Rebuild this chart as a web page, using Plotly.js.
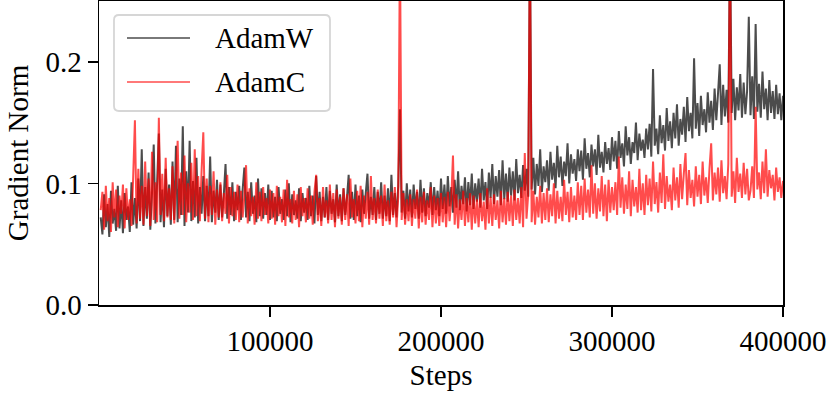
<!DOCTYPE html>
<html>
<head>
<meta charset="utf-8">
<script src="https://cdn.plot.ly/plotly-3.0.1.min.js"></script>
<style>
  html, body { margin: 0; padding: 0; background: #fff; }
  #chart { width: 830px; height: 395px; }
</style>
</head>
<body>
<div id="chart"></div>
<script>
// gradient norm, one value per 1000 steps
const adamW = [
  0.072, 0.058, 0.091, 0.064, 0.083, 0.056, 0.094, 0.067, 0.079, 0.061, 0.098, 0.063, 0.086, 0.059, 0.092, 0.070, 0.081, 0.060, 0.101, 0.066,
  0.088, 0.063, 0.104, 0.069, 0.128, 0.065, 0.097, 0.071, 0.109, 0.062, 0.092, 0.132, 0.067, 0.101, 0.141, 0.068, 0.095, 0.064, 0.112, 0.073,
  0.099, 0.066, 0.118, 0.070, 0.131, 0.068, 0.104, 0.074, 0.147, 0.065, 0.110, 0.076, 0.135, 0.069, 0.102, 0.072, 0.121, 0.067, 0.097, 0.075,
  0.106, 0.069, 0.098, 0.073, 0.122, 0.068, 0.094, 0.076, 0.103, 0.070, 0.099, 0.072, 0.091, 0.116, 0.071, 0.097, 0.074, 0.101, 0.069, 0.093,
  0.078, 0.098, 0.070, 0.095, 0.113, 0.072, 0.093, 0.069, 0.101, 0.075, 0.090, 0.068, 0.104, 0.073, 0.096, 0.071, 0.092, 0.074, 0.099, 0.070,
  0.094, 0.072, 0.089, 0.069, 0.097, 0.075, 0.087, 0.070, 0.095, 0.073, 0.100, 0.068, 0.091, 0.074, 0.086, 0.071, 0.096, 0.069, 0.092, 0.076,
  0.088, 0.070, 0.098, 0.073, 0.090, 0.067, 0.106, 0.074, 0.093, 0.069, 0.089, 0.072, 0.097, 0.070, 0.094, 0.075, 0.087, 0.068, 0.099, 0.073,
  0.091, 0.069, 0.096, 0.074, 0.088, 0.107, 0.071, 0.093, 0.070, 0.099, 0.073, 0.090, 0.068, 0.095, 0.075, 0.092, 0.108, 0.071, 0.089, 0.074,
  0.097, 0.070, 0.093, 0.075, 0.101, 0.071, 0.090, 0.073, 0.096, 0.069, 0.107, 0.074, 0.092, 0.072, 0.098, 0.161, 0.076, 0.094, 0.071, 0.100,
  0.077, 0.095, 0.072, 0.099, 0.079, 0.093, 0.071, 0.103, 0.076, 0.096, 0.073, 0.092, 0.080, 0.101, 0.074, 0.097, 0.078, 0.094, 0.073, 0.104,
  0.079, 0.099, 0.075, 0.106, 0.081, 0.097, 0.076, 0.103, 0.080, 0.110, 0.078, 0.098, 0.083, 0.105, 0.077, 0.101, 0.082, 0.108, 0.079, 0.100,
  0.085, 0.104, 0.080, 0.112, 0.086, 0.101, 0.079, 0.109, 0.088, 0.116, 0.083, 0.106, 0.089, 0.111, 0.082, 0.119, 0.087, 0.108, 0.085, 0.113,
  0.090, 0.110, 0.086, 0.120, 0.092, 0.107, 0.088, 0.115, 0.094, 0.112, 0.089, 0.300, 0.095, 0.121, 0.091, 0.116, 0.098, 0.128, 0.093, 0.114,
  0.101, 0.119, 0.094, 0.126, 0.103, 0.117, 0.096, 0.131, 0.105, 0.122, 0.098, 0.118, 0.106, 0.133, 0.100, 0.124, 0.108, 0.120, 0.102, 0.128,
  0.110, 0.127, 0.103, 0.137, 0.112, 0.125, 0.105, 0.132, 0.114, 0.128, 0.107, 0.140, 0.113, 0.126, 0.109, 0.134, 0.116, 0.129, 0.111, 0.138,
  0.118, 0.135, 0.112, 0.143, 0.121, 0.133, 0.114, 0.147, 0.123, 0.138, 0.116, 0.134, 0.125, 0.150, 0.119, 0.141, 0.127, 0.136, 0.121, 0.145,
  0.128, 0.149, 0.122, 0.194, 0.131, 0.145, 0.124, 0.156, 0.133, 0.148, 0.127, 0.162, 0.135, 0.151, 0.129, 0.158, 0.137, 0.165, 0.131, 0.153,
  0.140, 0.163, 0.134, 0.171, 0.143, 0.158, 0.137, 0.203, 0.145, 0.166, 0.139, 0.172, 0.148, 0.161, 0.142, 0.175, 0.150, 0.168, 0.144, 0.178,
  0.152, 0.174, 0.198, 0.148, 0.181, 0.155, 0.177, 0.150, 0.300, 0.158, 0.186, 0.152, 0.179, 0.160, 0.190, 0.154, 0.183, 0.157, 0.176, 0.237,
  0.156, 0.188, 0.153, 0.231, 0.159, 0.182, 0.154, 0.192, 0.161, 0.178, 0.152, 0.185, 0.158, 0.176, 0.153, 0.181, 0.157, 0.174, 0.152, 0.172
];

const adamC = [
  0.078, 0.093, 0.062, 0.098, 0.069, 0.088, 0.060, 0.101, 0.072, 0.095, 0.064, 0.090, 0.075, 0.099, 0.063, 0.096, 0.070, 0.087, 0.065, 0.106,
  0.152, 0.067, 0.112, 0.071, 0.098, 0.066, 0.118, 0.073, 0.104, 0.065, 0.126, 0.070, 0.101, 0.068, 0.154, 0.074, 0.108, 0.069, 0.121, 0.072,
  0.096, 0.070, 0.114, 0.067, 0.103, 0.135, 0.071, 0.109, 0.074, 0.123, 0.068, 0.100, 0.076, 0.117, 0.070, 0.128, 0.073, 0.106, 0.069, 0.111,
  0.142, 0.071, 0.104, 0.068, 0.098, 0.074, 0.110, 0.066, 0.095, 0.072, 0.101, 0.069, 0.092, 0.075, 0.107, 0.067, 0.097, 0.073, 0.093, 0.070,
  0.099, 0.068, 0.094, 0.072, 0.090, 0.115, 0.067, 0.096, 0.073, 0.089, 0.066, 0.101, 0.071, 0.093, 0.069, 0.097, 0.074, 0.088, 0.067, 0.095,
  0.071, 0.092, 0.066, 0.098, 0.073, 0.089, 0.068, 0.095, 0.065, 0.103, 0.072, 0.087, 0.067, 0.094, 0.070, 0.091, 0.064, 0.097, 0.073, 0.088,
  0.068, 0.096, 0.071, 0.090, 0.066, 0.093, 0.107, 0.069, 0.088, 0.065, 0.097, 0.072, 0.086, 0.067, 0.099, 0.070, 0.092, 0.064, 0.095, 0.071,
  0.089, 0.066, 0.096, 0.070, 0.091, 0.065, 0.104, 0.072, 0.087, 0.067, 0.094, 0.069, 0.098, 0.064, 0.090, 0.071, 0.093, 0.066, 0.106, 0.070,
  0.088, 0.067, 0.095, 0.071, 0.090, 0.065, 0.099, 0.069, 0.086, 0.066, 0.093, 0.072, 0.097, 0.064, 0.089, 0.300, 0.070, 0.092, 0.066, 0.087,
  0.069, 0.091, 0.065, 0.087, 0.071, 0.095, 0.063, 0.089, 0.068, 0.093, 0.066, 0.086, 0.070, 0.097, 0.064, 0.090, 0.067, 0.088, 0.065, 0.092,
  0.068, 0.089, 0.064, 0.093, 0.069, 0.086, 0.123, 0.066, 0.091, 0.063, 0.087, 0.070, 0.094, 0.065, 0.088, 0.068, 0.092, 0.062, 0.090, 0.067,
  0.087, 0.064, 0.092, 0.069, 0.085, 0.062, 0.096, 0.067, 0.089, 0.065, 0.091, 0.070, 0.086, 0.063, 0.094, 0.068, 0.088, 0.066, 0.093, 0.069,
  0.090, 0.065, 0.095, 0.070, 0.088, 0.067, 0.097, 0.064, 0.125, 0.071, 0.091, 0.300, 0.068, 0.094, 0.066, 0.089, 0.072, 0.098, 0.067, 0.092,
  0.070, 0.096, 0.068, 0.091, 0.073, 0.100, 0.067, 0.094, 0.071, 0.089, 0.069, 0.103, 0.074, 0.093, 0.068, 0.097, 0.072, 0.090, 0.070, 0.101,
  0.074, 0.098, 0.070, 0.104, 0.076, 0.095, 0.072, 0.115, 0.075, 0.100, 0.071, 0.096, 0.077, 0.106, 0.073, 0.099, 0.069, 0.103, 0.076, 0.097,
  0.078, 0.101, 0.074, 0.122, 0.080, 0.105, 0.075, 0.099, 0.079, 0.110, 0.073, 0.103, 0.081, 0.097, 0.076, 0.112, 0.078, 0.100, 0.074, 0.107,
  0.082, 0.104, 0.077, 0.118, 0.083, 0.101, 0.076, 0.109, 0.084, 0.124, 0.079, 0.106, 0.085, 0.099, 0.078, 0.113, 0.086, 0.105, 0.080, 0.116,
  0.087, 0.108, 0.125, 0.082, 0.111, 0.088, 0.103, 0.081, 0.114, 0.089, 0.107, 0.083, 0.118, 0.090, 0.105, 0.084, 0.112, 0.133, 0.086, 0.109,
  0.091, 0.113, 0.085, 0.119, 0.092, 0.106, 0.087, 0.116, 0.300, 0.089, 0.110, 0.084, 0.121, 0.093, 0.108, 0.088, 0.117, 0.091, 0.112, 0.086,
  0.094, 0.114, 0.088, 0.163, 0.095, 0.109, 0.087, 0.118, 0.092, 0.128, 0.089, 0.111, 0.096, 0.107, 0.086, 0.113, 0.093, 0.105, 0.088, 0.102
];

const seriesNames = ['AdamW', 'AdamC'];
const seriesColors = ['rgba(0,0,0,0.7)', 'rgba(255,0,0,0.7)'];

const steps = adamW.map((_, i) => (i + 1) * 1000);
const xTicks = [100000, 200000, 300000, 400000];
const yTicks = [0.0, 0.1, 0.2];

const FONT = 'Liberation Serif, Times New Roman, serif';
const W = 830, H = 395;
const M = { l: 99, r: 47, t: 1, b: 90 };

// pixel -> paper helpers for the matplotlib-style legend box
const plotW = W - M.l - M.r, plotH = H - M.t - M.b;
const px = v => (v - M.l) / plotW;
const py = v => 1 - (v - M.t) / plotH;

function roundRect(x0, y0, x1, y1, r) {
  const rx = r / plotW, ry = r / plotH;
  const a = px(x0), b = px(x1), top = py(y0), bot = py(y1);
  return `M${a + rx},${top} L${b - rx},${top} Q${b},${top} ${b},${top - ry} ` +
    `L${b},${bot + ry} Q${b},${bot} ${b - rx},${bot} L${a + rx},${bot} ` +
    `Q${a},${bot} ${a},${bot + ry} L${a},${top - ry} Q${a},${top} ${a + rx},${top} Z`;
}

const traces = [adamW, adamC].map((vals, i) => ({
  x: steps, y: vals, name: seriesNames[i], type: 'scatter', mode: 'lines',
  line: { color: seriesColors[i], width: 2, simplify: false },
  hoverinfo: 'skip', showlegend: false
}));

const shapes = [{
  type: 'path', xref: 'paper', yref: 'paper', layer: 'above',
  path: roundRect(114, 15, 330, 111, 5),
  fillcolor: 'rgba(255,255,255,0.8)',
  line: { color: '#d6d6d6', width: 1.8 }
}];
const annotations = [];
seriesNames.forEach((name, i) => {
  const yPix = 38 + i * 44;
  shapes.push({
    type: 'line', xref: 'paper', yref: 'paper', layer: 'above',
    x0: px(127), x1: px(190), y0: py(yPix), y1: py(yPix),
    line: { color: seriesColors[i], width: 1.5 }
  });
  annotations.push({
    xref: 'paper', yref: 'paper', x: px(213), y: py(yPix),
    xanchor: 'left', yanchor: 'middle', showarrow: false,
    text: name, font: { family: FONT, size: 29, color: '#000' }
  });
});

const axisCommon = {
  showline: true, mirror: true, linecolor: '#000', linewidth: 1.5,
  ticks: 'outside', ticklen: 10, tickwidth: 1.5, tickcolor: '#000',
  showgrid: false, zeroline: false,
  tickfont: { family: FONT, size: 29, color: '#000' }
};

const layout = {
  width: W, height: H,
  margin: M,
  paper_bgcolor: '#fff', plot_bgcolor: '#fff',
  font: { family: FONT, size: 29, color: '#000' },
  xaxis: Object.assign({}, axisCommon, {
    range: [0, 400000], tickvals: xTicks, ticktext: xTicks.map(String),
    title: { text: 'Steps', font: { family: FONT, size: 29 }, standoff: 8 }
  }),
  yaxis: Object.assign({}, axisCommon, {
    range: [0, 0.25], tickvals: yTicks, ticktext: yTicks.map(v => v.toFixed(1)),
    title: { text: 'Gradient Norm', font: { family: FONT, size: 29 }, standoff: 8 }
  }),
  shapes: shapes,
  annotations: annotations,
  showlegend: false
};

Plotly.newPlot('chart', traces, layout, { displayModeBar: false, staticPlot: true });
</script>
</body>
</html>
